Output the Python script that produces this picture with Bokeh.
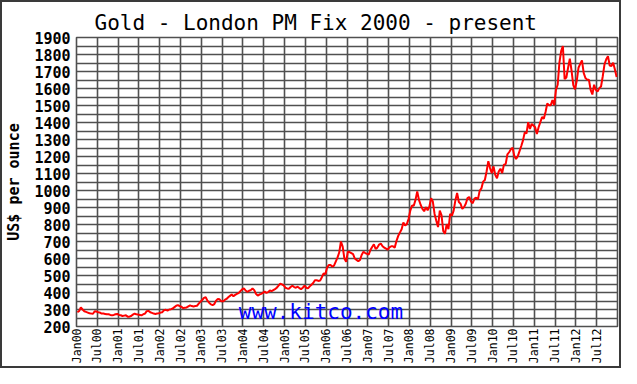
from math import pi
from bokeh.plotting import figure
from bokeh.layouts import column
from bokeh.models import FixedTicker, Label, Range1d
from bokeh.embed import file_html
from bokeh.resources import INLINE

# Semi-monthly London PM fix (USD/oz): two values per month
p2000 = [285, 290, 312, 300, 290, 286, 282, 278, 276, 275, 290, 288, 284, 282, 276, 276, 274, 272, 272, 268, 266, 268, 272, 274]
p2001 = [268, 266, 262, 264, 266, 258, 258, 262, 270, 276, 272, 270, 268, 266, 272, 276, 290, 292, 284, 280, 276, 274, 276, 278]
p2002 = [282, 284, 296, 298, 294, 300, 302, 306, 314, 322, 326, 320, 316, 308, 310, 312, 318, 324, 320, 318, 320, 322, 334, 346]
p2003 = [356, 368, 372, 352, 340, 330, 326, 332, 352, 362, 360, 348, 348, 356, 362, 372, 380, 388, 378, 386, 392, 396, 408, 418]
p2004 = [424, 412, 404, 410, 414, 424, 414, 392, 382, 388, 392, 398, 406, 398, 402, 412, 408, 414, 420, 428, 440, 452, 448, 442]
p2005 = [428, 424, 422, 432, 440, 432, 428, 434, 426, 420, 428, 440, 428, 424, 436, 446, 456, 472, 472, 468, 470, 490, 512, 508]
p2006 = [545, 562, 562, 552, 558, 582, 605, 635, 700, 670, 600, 580, 640, 638, 632, 626, 600, 592, 584, 592, 622, 640, 632, 628]
p2007 = [622, 650, 668, 684, 656, 664, 682, 688, 672, 664, 658, 652, 666, 672, 672, 664, 702, 732, 752, 772, 812, 794, 802, 832]
p2008 = [882, 912, 910, 945, 995, 945, 915, 892, 878, 902, 884, 904, 955, 935, 862, 822, 785, 882, 855, 762, 745, 802, 772, 862]
p2009 = [852, 882, 942, 985, 932, 922, 892, 902, 922, 955, 962, 935, 925, 952, 958, 948, 998, 1012, 1052, 1062, 1112, 1172, 1132, 1102]
p2010 = [1142, 1092, 1072, 1112, 1128, 1102, 1152, 1155, 1212, 1225, 1242, 1252, 1202, 1185, 1202, 1232, 1262, 1295, 1342, 1335, 1402, 1362, 1392, 1382]
p2011 = [1372, 1332, 1372, 1402, 1432, 1422, 1462, 1512, 1502, 1502, 1532, 1502, 1592, 1622, 1752, 1820, 1850, 1655, 1665, 1722, 1775, 1705, 1620, 1595]
p2012 = [1645, 1722, 1745, 1765, 1692, 1662, 1652, 1652, 1592, 1565, 1622, 1592, 1582, 1602, 1612, 1672, 1742, 1772, 1790, 1735, 1732, 1752, 1712, 1668]

years = list(range(2000, 2013))
yearly = [p2000, p2001, p2002, p2003, p2004, p2005, p2006, p2007, p2008, p2009, p2010, p2011, p2012]

tick_years = [y + h * 0.5 for y in years for h in (0, 1)]
tick_labels = [("Jan" if h == 0 else "Jul") + "%02d" % (y % 100) for y in years for h in (0, 1)]
y_ticks = list(range(200, 2000, 100))
y_minor = list(range(250, 1900, 100))

xs, ys = [], []
for yr, vals in zip(years, yearly):
    for k, v in enumerate(vals):
        xs.append(yr + (k + 0.5) / 24.0)
        ys.append(v)

GRID = "#505050"
MONO = "DejaVu Sans Mono"
W, H = 617, 364

fig = figure(width=W, height=H, output_backend="svg", toolbar_location=None,
             x_range=Range1d(2000, 2013), y_range=Range1d(200, 1900),
             min_border_left=71, min_border_right=2, min_border_top=35, min_border_bottom=37,
             title="Gold - London PM Fix 2000 - present")

fig.title.text_font = MONO
fig.title.text_font_size = "21px"
fig.title.text_font_style = "normal"
fig.title.align = "left"
fig.title.offset = 18
fig.title.standoff = 6
fig.title.text_color = "#000000"

fig.background_fill_color = "white"
fig.border_fill_color = "white"
fig.outline_line_color = GRID
fig.outline_line_width = 1.6

xt = FixedTicker(ticks=tick_years)
fig.xaxis.ticker = xt
fig.xaxis.major_label_overrides = {t: l for t, l in zip(tick_years, tick_labels)}
fig.xaxis.major_label_orientation = pi / 2
fig.xaxis.major_label_text_font = MONO
fig.xaxis.major_label_text_font_size = "11.5px"
fig.xaxis.major_label_standoff = 2
fig.xgrid.ticker = xt

yt = FixedTicker(ticks=y_ticks, minor_ticks=y_minor)
fig.yaxis.ticker = yt
fig.yaxis.major_label_text_font = MONO
fig.yaxis.major_label_text_font_size = "15px"
fig.yaxis.major_label_text_font_style = "bold"
fig.yaxis.major_label_standoff = 6
fig.yaxis.axis_label = "US$ per ounce"
fig.yaxis.axis_label_text_font = MONO
fig.yaxis.axis_label_text_font_size = "15px"
fig.yaxis.axis_label_text_font_style = "bold"
fig.yaxis.axis_label_standoff = 8

for ax in (fig.xaxis, fig.yaxis):
    ax.axis_line_color = None
    ax.major_tick_line_color = None
    ax.minor_tick_line_color = None
    ax.major_tick_out = 0
    ax.major_tick_in = 0
    ax.minor_tick_out = 0
    ax.minor_tick_in = 0
    ax.major_label_text_color = "#000000"
    ax.axis_label_text_color = "#000000"

for g in (fig.xgrid, fig.ygrid):
    g.grid_line_color = GRID
    g.grid_line_width = 1.6
    g.grid_line_alpha = 1.0
fig.ygrid.minor_grid_line_color = GRID
fig.ygrid.minor_grid_line_width = 1.6

fig.add_layout(Label(x=2003.9, y=217, text="www.kitco.com", text_color="#0000ff",
                     text_font=MONO, text_font_size="21px"))

fig.line(xs, ys, line_color="#ff0000", line_width=2)

p = column(fig, styles={"border": "2px solid #3a3a3a", "background-color": "white"})

open("out.html", "w").write(file_html(p, INLINE))
